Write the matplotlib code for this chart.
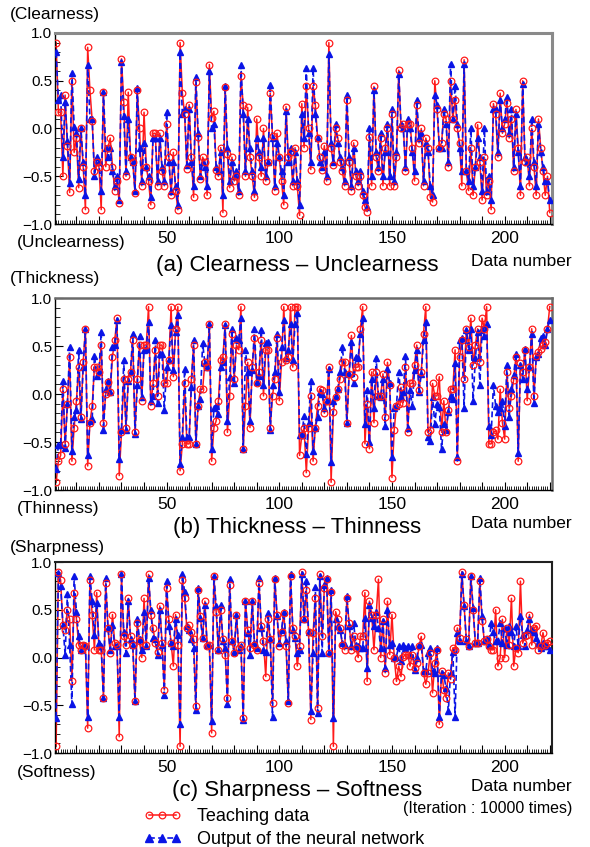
import numpy as np
import matplotlib
matplotlib.use("Agg")
import matplotlib.pyplot as plt
from matplotlib.ticker import MultipleLocator, FuncFormatter
from matplotlib.lines import Line2D
from matplotlib.legend_handler import HandlerLine2D

plt.rcParams['font.family'] = ['Liberation Sans', 'DejaVu Sans']

# ---------------- data ----------------
teach_a = [
    0.90, 0.17, 0.17, -0.50, 0.35, -0.18, -0.67, 0.50, -0.25, -0.10,
    -0.62, 0.00, -0.40, -0.85, 0.85, 0.40, 0.08, -0.45, -0.35, -0.40,
    -0.85, 0.38, -0.40, -0.20, -0.10, -0.40, -0.65, -0.55, -0.78, 0.73,
    0.28, -0.50, 0.38, -0.30, -0.35, -0.68, 0.40, 0.00, -0.60, 0.17,
    -0.40, -0.55, -0.80, -0.05, -0.05, -0.60, -0.05, -0.45, -0.60, 0.05,
    -0.30, -0.70, -0.25, -0.65, -0.85, 0.90,
    0.37, 0.15, -0.42, 0.25, -0.30, -0.72, 0.49, -0.09, -0.53, -0.30,
    -0.35, -0.70, 0.67, 0.11, 0.18, -0.43, -0.50, -0.20, -0.88, 0.43,
    -0.27, -0.62, -0.30, -0.55, -0.50, -0.70, 0.55, 0.25, -0.50, 0.22,
    -0.30, -0.50, -0.72, 0.10, -0.30, -0.50, 0.00, -0.55, -0.35, 0.37,
    -0.08, -0.65, -0.05, -0.30, -0.55, -0.80, 0.23, -0.30, -0.25, -0.60,
    -0.20, -0.60, -0.91, 0.26,
    -0.20, 0.44, 0.00, -0.43, 0.45, 0.25, -0.10, -0.30, -0.43, -0.18,
    -0.55, 0.90, -0.20, -0.38, 0.00, -0.10, -0.35, -0.45, -0.60, 0.30,
    -0.35, -0.65, -0.15, -0.50, -0.60, -0.50, -0.70, -0.82, -0.87, -0.09,
    -0.60, 0.44, -0.30, -0.45, -0.10, -0.60, -0.20, 0.00, -0.60, 0.15,
    -0.60, -0.30, 0.61, 0.00, 0.05, -0.45, 0.05, 0.05, -0.20, -0.55,
    0.25, -0.15, 0.00, -0.60, -0.10, -0.20,
    -0.72, -0.77, 0.50, 0.20, -0.20,
    -0.15, 0.15, 0.10, -0.40, 0.50, 0.10, 0.30, 0.00, -0.15, -0.60,
    0.72, -0.45, -0.65, -0.20, -0.70, -0.40, 0.04, -0.35, -0.75, -0.30,
    -0.70, -0.55, -0.85, 0.26, 0.15, -0.30, 0.37, -0.05, 0.05, 0.27,
    -0.10, 0.10, -0.45, 0.20, -0.20, -0.70, 0.50, -0.35, -0.30, -0.60,
    0.00, -0.40, -0.70, 0.10, -0.20, -0.45, -0.70, -0.50, -0.88,
]
output_a = [
    0.80, 0.30, 0.35, -0.30, 0.28, -0.13, -0.57, 0.58, 0.02, -0.05,
    -0.53, 0.00, -0.35, -0.70, 0.67, 0.10, 0.10, -0.50, -0.30, -0.35,
    -0.65, 0.38, -0.20, -0.30, -0.20, -0.45, -0.60, -0.50, -0.75, 0.70,
    0.13, -0.45, 0.10, -0.30, -0.35, -0.65, 0.42, -0.20, -0.55, -0.15,
    -0.40, -0.50, -0.72, -0.10, -0.10, -0.55, -0.10, -0.40, -0.55, 0.17,
    -0.35, -0.65, -0.35, -0.60, -0.80, 0.80,
    0.15, 0.20, -0.38, 0.20, -0.35, -0.60, 0.54, -0.05, -0.50, -0.35,
    -0.40, -0.60, 0.60, 0.00, 0.05, -0.40, -0.45, -0.25, -0.70, 0.45,
    -0.20, -0.55, -0.35, -0.50, -0.45, -0.65, 0.66, 0.15, -0.45, 0.10,
    -0.20, -0.45, -0.65, -0.10, -0.25, -0.40, -0.10, -0.50, -0.35, 0.46,
    -0.10, -0.60, -0.15, -0.30, -0.45, -0.70, 0.18, -0.35, -0.20, -0.55,
    -0.25, -0.55, -0.80, 0.15,
    -0.10, 0.63, -0.05, -0.35, 0.63, 0.15, -0.10, -0.35, -0.40, -0.25,
    -0.50, 0.78, -0.15, -0.35, 0.05, -0.15, -0.30, -0.40, -0.55, 0.35,
    -0.30, -0.60, -0.20, -0.45, -0.55, -0.45, -0.65, -0.75, -0.82, 0.00,
    -0.50, 0.40, -0.25, -0.40, -0.05, -0.50, -0.25, 0.05, -0.50, 0.20,
    -0.55, -0.25, 0.57, 0.05, 0.00, -0.40, 0.10, 0.00, -0.25, -0.45,
    0.30, -0.10, -0.05, -0.55, -0.15, -0.25,
    -0.60, -0.70, 0.35, 0.25, -0.20,
    -0.20, 0.20, 0.05, -0.35, 0.68, 0.10, 0.45, 0.05, -0.20, -0.45,
    0.68, -0.45, -0.55, 0.00, -0.60, -0.40, -0.10, -0.30, -0.65, 0.00,
    -0.65, -0.50, -0.75, 0.20, 0.20, -0.25, 0.30, 0.00, 0.10, 0.33,
    -0.05, 0.20, -0.40, 0.15, -0.25, -0.60, 0.47, -0.30, -0.35, -0.50,
    0.10, -0.35, -0.60, 0.05, -0.25, -0.40, -0.55, -0.55, -0.75,
]

teach_b = [
    -0.92, -0.70, -0.64, 0.05, -0.52, -0.10, 0.39, -0.70, -0.35, -0.07,
    0.28, -0.24, 0.33, 0.68, -0.75, -0.30, -0.12, 0.28, 0.28, 0.23,
    0.51, -0.30, 0.00, 0.12, 0.02, 0.39, 0.56, 0.79, -0.85, -0.40,
    0.16, -0.35, 0.16, 0.23, 0.56, -0.40, 0.16, 0.51, -0.07, 0.51,
    0.51, 0.91, -0.12, 0.11, 0.46, -0.02, 0.51, 0.51, 0.11, 0.11,
    0.35, 0.91, 0.18, 0.68, 0.91, -0.80, -0.52, 0.11, -0.52, -0.52,
    0.16, 0.51, -0.52, -0.12, 0.05, 0.05, 0.33, 0.28, 0.73, -0.70,
    -0.35, -0.28, -0.07, 0.35, 0.39, 0.73, -0.40, -0.02, 0.63, 0.16,
    0.51, 0.46, 0.91, -0.57, -0.12, 0.33, -0.35, 0.28, 0.58, 0.11,
    0.23, 0.56, -0.02, 0.46, 0.46, -0.35, -0.02, 0.16, 0.58, -0.07,
    0.33, 0.91, 0.35, 0.39, 0.91, 0.28, 0.91, 0.91, -0.64,
    -0.43, -0.35, -0.82, -0.35, -0.02, -0.70, -0.35, -0.12, 0.05, 0.04, -0.20,
    -0.07, 0.28, -0.92, -0.19, -0.03, 0.05, 0.16, 0.33, 0.33, -0.30,
    0.21, 0.61, 0.18, 0.28, 0.28, 0.68, 0.91, -0.52, -0.10, -0.57,
    0.23, -0.30, 0.23, -0.02, -0.02, 0.21, -0.24, 0.33, 0.09, -0.87,
    -0.37, -0.12, -0.10, 0.07, -0.09, 0.28, -0.40, 0.11, 0.11, 0.30, 0.51,
    0.04, 0.23, 0.63, 0.91, -0.40, -0.37, 0.11, -0.02, -0.02, 0.18,
    -0.40, -0.07, -0.40, -0.17, 0.05, 0.05, 0.46, -0.70, 0.39, 0.56,
    0.16, 0.68, 0.49, 0.79, 0.30, 0.51, 0.68, 0.33, 0.79, 0.68,
    0.91, -0.52, -0.52, -0.40, -0.38, -0.47, 0.05, -0.30, -0.47, 0.23,
    -0.15, -0.02, 0.15, 0.39, -0.70, 0.32, 0.23, 0.46, -0.07, 0.28, 0.68,
    -0.02, 0.40, 0.44, 0.47, 0.51, 0.54, 0.68, 0.91,
]
output_b = [
    -0.78, -0.53, -0.53, 0.14, -0.56, -0.10, 0.49, -0.59, -0.24, -0.17,
    0.46, -0.26, 0.28, 0.68, -0.64, -0.28, -0.26, 0.40, 0.19, 0.23,
    0.65, -0.38, 0.05, 0.14, 0.02, 0.49, 0.51, 0.77, -0.68, -0.37,
    0.35, -0.37, 0.14, 0.23, 0.63, -0.42, 0.09, 0.60, -0.03, 0.46,
    0.47, 0.75, -0.07, -0.02, 0.56, -0.09, 0.42, 0.42, -0.17, 0.28,
    0.35, 0.72, 0.25, 0.65, 0.82, -0.73, -0.45, 0.26, -0.45, -0.45,
    0.07, 0.56, -0.52, -0.12, -0.05, 0.53, 0.32, 0.28, 0.73, -0.57,
    -0.15, -0.12, -0.21, 0.28, 0.33, 0.72, -0.28, 0.18, 0.68, 0.11,
    0.58, 0.56, 0.79, -0.57, 0.46, 0.23, -0.28, 0.25, 0.68, 0.12,
    0.19, 0.67, 0.09, 0.53, 0.54, -0.38, 0.09, 0.23, 0.63, 0.02,
    0.49, 0.77, 0.37, 0.46, 0.73, 0.35, 0.73, 0.84, -0.43,
    -0.43, -0.23, -0.63, -0.30, 0.14, -0.59, -0.35, -0.24, 0.02, 0.00, -0.15,
    -0.07, 0.26, -0.71, -0.07, -0.02, 0.05, 0.23, 0.49, 0.23, -0.30,
    0.21, 0.54, 0.11, 0.39, 0.37, 0.63, 0.79, -0.31, 0.04, -0.50,
    0.16, -0.15, 0.37, -0.02, -0.03, 0.16, -0.33, 0.26, 0.11, -0.66,
    -0.15, -0.12, 0.23, -0.03, 0.02, 0.40, -0.35, 0.04, -0.12, 0.25, 0.46,
    0.02, 0.21, 0.56, 0.75, -0.45, -0.49, -0.03, -0.31, -0.10, -0.14,
    -0.57, -0.31, -0.37, -0.19, -0.02, -0.05, 0.32, -0.66, 0.56, 0.58,
    -0.15, 0.67, 0.46, 0.68, -0.07, 0.37, 0.65, 0.09, 0.68, 0.60,
    0.73, -0.33, -0.43, 0.09, -0.12, -0.19, -0.15, -0.07, -0.33, 0.30,
    -0.24, 0.05, 0.20, 0.42, -0.61, 0.30, 0.16, 0.47, 0.05, 0.28, 0.63,
    -0.09, 0.39, 0.42, 0.58, 0.60, 0.51, 0.68, 0.77,
]

teach_c = [
    -0.93, 0.90, 0.81, 0.34, 0.29, 0.50, 0.40, -0.25, 0.68, 0.40,
    0.13, 0.08, 0.13, 0.12, -0.74, 0.81, 0.45, 0.08, 0.68, 0.08,
    0.08, -0.42, 0.78, 0.31, 0.05, 0.45, 0.15, 0.13, -0.83, 0.87,
    0.22, 0.13, 0.62, 0.22, 0.13, -0.46, 0.36, 0.17, 0.00, 0.62,
    0.13, 0.87, 0.45, 0.31, 0.15, 0.06, 0.54, 0.15, -0.34, 0.73,
    0.40, 0.15, -0.09, 0.45, 0.13, -0.93, 0.81, 0.62, 0.31, 0.34,
    0.27, 0.19, -0.51, 0.71, 0.43, 0.20, 0.59, 0.12, 0.13, -0.79,
    0.85, 0.48, 0.08, 0.50, 0.19, 0.03, -0.42, 0.76, 0.17, 0.05,
    0.45, 0.10, 0.13, -0.63, 0.59, 0.29, 0.10, 0.59, 0.13, 0.08,
    0.78, 0.33, 0.17, -0.20, 0.40, 0.19, -0.48, 0.82, 0.45, 0.12,
    0.27, 0.47, 0.12, -0.48, 0.85, 0.31, 0.22, -0.09, 0.12, 0.90,
    0.40, 0.71, 0.27, -0.65, 0.26, 0.62, -0.53, 0.87, 0.22, 0.73,
    0.82, 0.05, 0.69, -0.93, 0.48, 0.40, 0.31, 0.13, 0.08, 0.62,
    0.36, 0.08, 0.22, 0.10, 0.00, 0.22, 0.22, 0.68, -0.25, 0.59,
    0.45, 0.08, 0.45, 0.82, 0.00, 0.40, -0.16, 0.59, 0.03, 0.45,
    0.00, -0.25, -0.09, -0.20, 0.01, 0.03, 0.03, -0.09, 0.03, -0.11,
    -0.06, 0.12, 0.22, -0.16, -0.28, -0.16, 0.05, -0.37, -0.06, 0.08,
    -0.70, -0.14, -0.34, -0.42, -0.16, -0.23, 0.10, 0.08, 0.31, 0.20,
    0.90, 0.55, 0.19, 0.12, 0.85, 0.50, 0.15, 0.15, 0.80, 0.38,
    0.17, 0.19, 0.12, 0.08, 0.08, 0.50, -0.09, 0.00, 0.40, 0.00,
    0.31, 0.13, 0.62, -0.09, 0.10, 0.05, 0.80, 0.15, 0.22, 0.24,
    0.45, 0.13, 0.31, 0.33, 0.08, 0.12, 0.26, 0.13, 0.15, 0.17,
]
output_c = [
    -0.63, 0.88, 0.75, 0.34, 0.03, 0.66, 0.13, -0.49, 0.85, 0.48,
    0.22, 0.08, 0.13, 0.13, -0.62, 0.85, 0.59, 0.24, 0.57, 0.15,
    0.12, -0.42, 0.83, 0.31, 0.08, 0.34, 0.12, 0.12, -0.62, 0.87,
    0.27, 0.05, 0.59, 0.19, 0.13, -0.46, 0.40, 0.19, 0.08, 0.48,
    0.12, 0.83, 0.50, 0.20, 0.19, 0.03, 0.50, 0.13, -0.39, 0.80,
    0.33, 0.15, 0.12, 0.40, 0.24, -0.70, 0.87, 0.69, 0.33, 0.29,
    0.19, 0.10, -0.55, 0.73, 0.41, 0.20, 0.55, 0.13, 0.13, -0.67,
    0.85, 0.54, 0.08, 0.55, 0.17, 0.10, -0.49, 0.82, 0.17, 0.06,
    0.45, 0.08, 0.12, -0.65, 0.59, 0.26, 0.03, 0.59, 0.15, 0.10,
    0.83, 0.31, 0.08, 0.06, 0.47, 0.19, -0.62, 0.83, 0.43, 0.15,
    0.29, 0.48, 0.17, -0.46, 0.87, 0.29, 0.20, 0.05, 0.08, 0.87,
    0.40, 0.80, 0.27, -0.56, 0.05, 0.74, -0.58, 0.85, 0.05, 0.76,
    0.83, 0.05, 0.71, -0.63, 0.40, 0.33, 0.29, 0.15, 0.13, 0.64,
    0.33, 0.12, 0.36, 0.13, 0.12, 0.10, 0.10, 0.41, -0.11, 0.55,
    0.41, 0.33, 0.48, 0.31, 0.10, 0.38, -0.11, 0.50, 0.13, 0.15,
    0.00, 0.01, 0.12, -0.04, 0.13, 0.10, 0.12, 0.03, 0.12, -0.13,
    0.00, 0.13, 0.13, -0.14, -0.14, 0.05, 0.10, -0.14, -0.16, 0.10,
    -0.62, -0.16, -0.18, -0.32, -0.56, -0.16, 0.06, -0.62, 0.26, 0.17,
    0.87, 0.54, 0.17, 0.12, 0.85, 0.52, 0.15, 0.15, 0.83, 0.43,
    0.17, 0.19, 0.13, 0.36, 0.27, 0.17, 0.17, 0.36, 0.15, 0.31,
    0.13, 0.33, 0.27, 0.12, 0.33, 0.12, 0.43, 0.24, 0.12, 0.29,
    0.40, 0.29, 0.27, 0.20, 0.15, 0.10, 0.15, 0.12, 0.12, 0.08,
]

titles = ["(a) Clearness \u2013 Unclearness",
          "(b) Thickness \u2013 Thinness",
          "(c) Sharpness \u2013 Softness"]
upper_labels = ["(Clearness)", "(Thickness)", "(Sharpness)"]
lower_labels = ["(Unclearness)", "(Thinness)", "(Softness)"]
legend_labels = ["Teaching data", "Output of the neural network"]
x_tick_labels = [50, 100, 150, 200]
y_tick_values = [-1.0, -0.5, 0.0, 0.5, 1.0]

# ---------------- layout ----------------
W, H = 590, 847
fig = plt.figure(figsize=(W / 100, H / 100), dpi=100)


def fy(py):
    return 1 - py / H


def fx(px):
    return px / W


panels = [
    dict(t=teach_a, o=output_a, top=33, bot=224, frame='#8a8a8a', flw=2.2),
    dict(t=teach_b, o=output_b, top=298, bot=490, frame='#6a6a6a', flw=1.8),
    dict(t=teach_c, o=output_c, top=562, bot=753, frame='#202020', flw=1.5),
]
text_pos = [
    dict(up=14, low=243, title=265, dn=261),
    dict(up=279, low=508, title=527, dn=523),
    dict(up=547, low=772, title=790, dn=786),
]

left_px, right_px = 55, 552

red = '#ff1a1a'
blue = '#0a14e6'

for i, p in enumerate(panels):
    ax = fig.add_axes([fx(left_px), fy(p['bot']),
                       fx(right_px - left_px), (p['bot'] - p['top']) / H])
    t = np.array(p['t'])
    o = np.array(p['o'])
    x = np.arange(1, len(t) + 1)
    ax.plot(x, t, '-', color=red, lw=1.1, zorder=2)
    ax.plot(x, o, linestyle=(0, (3.5, 2)), color=blue, lw=1.2, zorder=3)
    ax.plot(x, o, '^', color=blue, ms=4.8, mec=blue, zorder=4, lw=0)
    ax.plot(x, t, 'o', mfc='none', mec=red, ms=4.8, mew=0.9, zorder=5, lw=0)

    ax.set_xlim(0.5, 221)
    ax.set_ylim(-1.0, 1.0)
    ax.xaxis.set_major_locator(MultipleLocator(10))
    ax.xaxis.set_minor_locator(MultipleLocator(1))
    ax.xaxis.set_major_formatter(FuncFormatter(
        lambda v, pos: f"{int(round(v))}" if int(round(v)) in x_tick_labels else ""))
    ax.set_yticks(y_tick_values)
    ax.yaxis.set_minor_locator(MultipleLocator(0.1))
    ax.yaxis.set_major_formatter(FuncFormatter(
        lambda v, pos: f"{v:.1f}".replace('-', '\u2212')))
    ax.tick_params(axis='x', which='major', direction='in', length=6,
                   width=0.8, labelsize=12.5, pad=5, top=False)
    ax.tick_params(axis='x', which='minor', direction='in', length=3,
                   width=0.6, top=False)
    ax.tick_params(axis='y', which='major', direction='in', length=6,
                   width=0.8, labelsize=11, pad=2, right=False)
    ax.tick_params(axis='y', which='minor', direction='in', length=3.5,
                   width=0.6, right=False)
    for s in ['top', 'right']:
        ax.spines[s].set_color(p['frame'])
        ax.spines[s].set_linewidth(p['flw'])
    for s in ['left', 'bottom']:
        ax.spines[s].set_color('black')
        ax.spines[s].set_linewidth(1.0)

    tp = text_pos[i]
    fig.text(fx(10), fy(tp['up']), upper_labels[i], fontsize=12.5,
             ha='left', va='center')
    fig.text(fx(17), fy(tp['low']), lower_labels[i], fontsize=12.5,
             ha='left', va='center')
    fig.text(fx(297), fy(tp['title']), titles[i], fontsize=16,
             ha='center', va='center')
    fig.text(fx(521), fy(tp['dn']), "Data number", fontsize=12.5,
             ha='center', va='center')

fig.text(fx(572), fy(808), "(Iteration : 10000 times)", fontsize=11.5,
         ha='right', va='center')

handles = [
    Line2D([], [], color=red, lw=1.1, marker='o', mfc='none', mec=red,
           ms=4.8, mew=0.9),
    Line2D([], [], color=blue, lw=1.2, linestyle=(0, (3.5, 2)), marker='^',
           mfc=blue, mec=blue, ms=5.2),
]
fig.legend(handles, legend_labels, loc='upper left',
           bbox_to_anchor=(fx(137), fy(808)), frameon=False, fontsize=13,
           numpoints=3, handlelength=2.8, handletextpad=0.55,
           labelspacing=0.35, borderpad=0, borderaxespad=0,
           handler_map={Line2D: HandlerLine2D(marker_pad=0.65, numpoints=3)})

fig.savefig("out.png", dpi=100)
